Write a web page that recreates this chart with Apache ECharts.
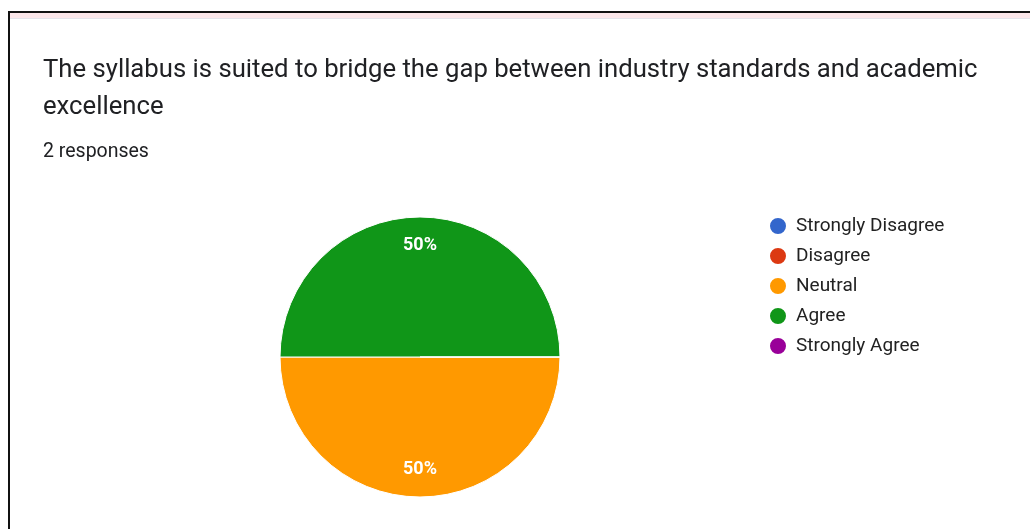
<!DOCTYPE html>
<html>
<head>
<meta charset="utf-8">
<style>
  html, body { margin: 0; padding: 0; background: #fff; }
  #chart { width: 1030px; height: 529px; }
</style>
<script src="https://cdn.jsdelivr.net/npm/echarts@6/dist/echarts.min.js"></script>
</head>
<body>
<div id="chart"></div>
<script>
const titleText = 'The syllabus is suited to bridge the gap between industry standards and academic\nexcellence'
const subText = '2 responses'
const categories = ['Strongly Disagree', 'Disagree', 'Neutral', 'Agree', 'Strongly Agree']
const counts = [0, 0, 1, 1, 0]
const colors = ['#3366cc', '#dc3912', '#ff9900', '#109618', '#990099']

const chart = echarts.init(document.getElementById('chart'))

const pieData = categories.map((name, i) => ({
  name,
  value: counts[i],
  itemStyle: { color: colors[i] }
}))

// label-only ring, so the percent text sits near the rim like the google chart
const labelData = categories.map((name, i) => ({
  name,
  value: counts[i],
  itemStyle: { color: 'transparent', borderWidth: 0 }
}))

const option = {
  animation: false,
  backgroundColor: '#fff',
  title: {
    text: titleText,
    subtext: subText,
    left: 38,
    top: 47,
    itemGap: 16,
    textStyle: {
      fontFamily: 'Roboto',
      fontSize: 25.7,
      fontWeight: 'normal',
      color: '#202124',
      lineHeight: 37
    },
    subtextStyle: {
      fontFamily: 'Roboto',
      fontSize: 19.5,
      color: '#202124'
    }
  },
  legend: {
    orient: 'vertical',
    left: 768,
    top: 216,
    padding: 0,
    itemWidth: 18,
    itemHeight: 18,
    itemGap: 10,
    icon: 'circle',
    selectedMode: false,
    textStyle: { fontFamily: 'Roboto', fontSize: 19, color: '#222', padding: [0, 0, 0, 4] },
    data: categories.map((name, i) => ({ name, itemStyle: { color: colors[i] } }))
  },
  graphic: [
    { type: 'rect', shape: { x: 8, y: 11, width: 1030, height: 2 }, style: { fill: '#111' } },
    { type: 'rect', shape: { x: 8, y: 11, width: 2, height: 530 }, style: { fill: '#111' } },
    { type: 'rect', shape: { x: 10, y: 13, width: 1030, height: 5 }, style: { fill: '#fbe6e9' } },
    { type: 'rect', shape: { x: 10, y: 18, width: 1030, height: 1 }, style: { fill: '#e4e4ea' } }
  ],
  series: [
    {
      type: 'pie',
      center: [420, 357],
      radius: [0, 140],
      startAngle: 0,
      clockwise: true,
      silent: true,
      label: { show: false },
      labelLine: { show: false },
      itemStyle: { borderColor: '#fff', borderWidth: 1 },
      data: pieData
    },
    {
      type: 'pie',
      center: [420, 357],
      radius: [78, 140],
      startAngle: 0,
      clockwise: true,
      silent: true,
      legendHoverLink: false,
      label: {
        show: true,
        position: 'inside',
        fontFamily: 'Roboto',
        fontSize: 18,
        fontWeight: 'bold',
        color: '#fff',
        formatter: (p) => p.value > 0 ? Math.round(p.percent) + '%' : ''
      },
      labelLine: { show: false },
      data: labelData
    }
  ]
}

chart.setOption(option)
</script>
</body>
</html>
